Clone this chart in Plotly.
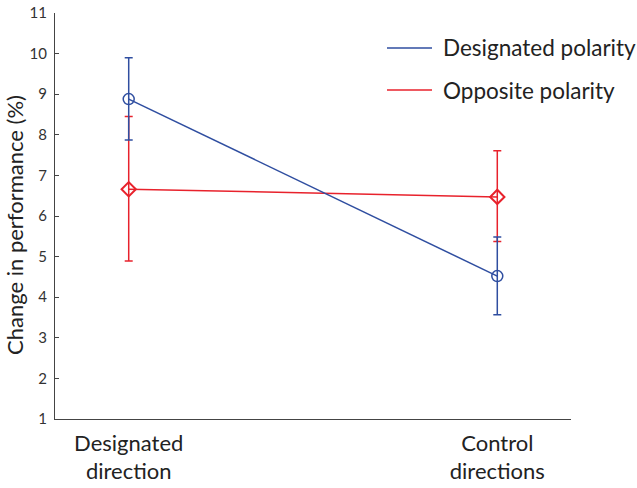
import plotly.graph_objects as go

categories = ["Designated<br>direction", "Control<br>directions"]
x_pos = [1, 2]
designated_mean = [8.88, 4.52]
designated_err_plus = [1.02, 0.96]
designated_err_minus = [1.01, 0.95]
opposite_mean = [6.66, 6.47]
opposite_err_plus = [1.79, 1.14]
opposite_err_minus = [1.77, 1.10]
series_names = ["Designated polarity", "Opposite polarity"]
y_ticks = list(range(1, 12))
y_title = "Change in performance (%)"

BLUE = "#2f4ea0"
RED = "#e8222c"
FONT = "Lato, Open Sans, sans-serif"

W, H = 637, 488
L, R, T, B = 55, 66, 13, 69
PW, PH = W - L - R, H - T - B

fig = go.Figure()
fig.add_trace(go.Scatter(
    x=x_pos, y=opposite_mean, mode="lines+markers",
    line=dict(color=RED, width=1.5),
    marker=dict(symbol="diamond-open", size=11, color=RED, line=dict(width=2)),
    error_y=dict(type="data", symmetric=False, array=opposite_err_plus,
                 arrayminus=opposite_err_minus, color=RED, thickness=1.5, width=4),
    showlegend=False))
fig.add_trace(go.Scatter(
    x=x_pos, y=designated_mean, mode="lines+markers",
    line=dict(color=BLUE, width=1.5),
    marker=dict(symbol="circle-open", size=11, color=BLUE, line=dict(width=1.5)),
    error_y=dict(type="data", symmetric=False, array=designated_err_plus,
                 arrayminus=designated_err_minus, color=BLUE, thickness=1.5, width=4),
    showlegend=False))

# legend drawn manually
legend_colors = [BLUE, RED]
legend_py = [48, 90]  # pixel rows
for name, col, py in zip(series_names, legend_colors, legend_py):
    ly = (H - B - py) / PH
    fig.add_shape(type="line", xref="paper", yref="paper",
                  x0=(387 - L) / PW, x1=(432 - L) / PW, y0=ly, y1=ly,
                  line=dict(color=col, width=1.5))
    fig.add_annotation(xref="paper", yref="paper", x=(441 - L) / PW, y=ly,
                       text=name, showarrow=False, xanchor="left", yanchor="middle",
                       font=dict(size=22.5, color="#222", family=FONT))

# y axis title
fig.add_annotation(xref="paper", yref="paper", x=(14 - L) / PW,
                   y=(H - B - 225) / PH,
                   text=y_title, textangle=-90, showarrow=False,
                   xanchor="center", yanchor="middle",
                   font=dict(size=22, color="#222", family=FONT))

fig.update_layout(
    width=W, height=H,
    margin=dict(l=L, r=R, t=T, b=B, autoexpand=False),
    paper_bgcolor="white", plot_bgcolor="white",
    font=dict(family=FONT, color="#333"),
    xaxis=dict(range=[0.8, 2.2], tickvals=x_pos, ticktext=categories,
               showgrid=False, zeroline=False, showline=True, linecolor="#444",
               linewidth=1.2, ticks="", automargin=False, ticklabelstandoff=4,
               tickfont=dict(size=22, color="#222")),
    yaxis=dict(range=[1, 11], tickvals=y_ticks, showgrid=False, zeroline=False,
               showline=True, linecolor="#444", linewidth=1.2, ticks="inside",
               ticklen=4, tickcolor="#444", automargin=False, ticklabelstandoff=4,
               tickfont=dict(size=15, color="#333")),
)

fig.write_html("out.html", config={"displayModeBar": False},
               post_script="document.body.style.margin='0';document.body.style.overflow='hidden';")
